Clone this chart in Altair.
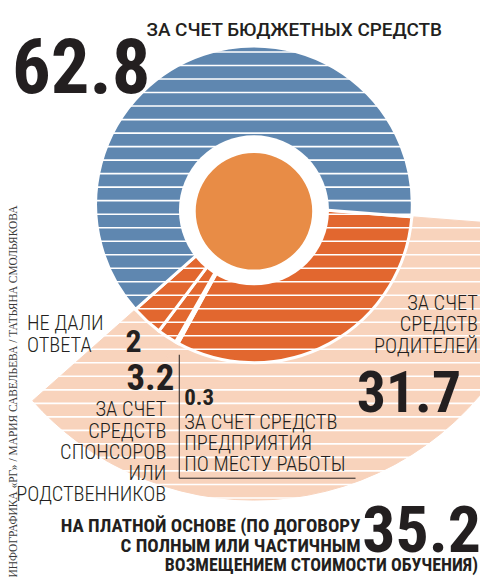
import math
import altair as alt
import pandas as pd

# ---- data ----
categories = [
    "За счет средств родителей",
    "За счет средств предприятия по месту работы",
    "Не дали ответа",
    "За счет средств спонсоров или родственников",
    "За счет бюджетных средств",
]
shares = [31.7, 0.3, 2.0, 3.2, 62.8]
paid = [31.7, 3.2, 0.3]          # "на платной основе" components

slice_colors = ["#E2672F", "#E2672F", "#E2672F", "#E2672F", "#5F87B0"]
peach = "#F8D3BC"
ink = "#231F20"

W, H = 474, 569
CX, CY = 247, 196          # pie centre (plot coords)
R_PIE = 159
R_PEACH = 297
START = math.radians(94.5)

def fmt(v):
    return f"{round(v, 1):g}"

df = pd.DataFrame({
    "category": categories,
    "share": shares,
    "ord": list(range(len(categories))),
})

theta_enc = alt.Theta("share:Q", stack=True,
                      scale=alt.Scale(range=[START, START + 2 * math.pi]))
order_enc = alt.Order("ord:Q")

# outer peach band (everything that is not budget-funded)
peach_layer = alt.Chart(df).mark_arc(radius=R_PEACH, stroke=peach, strokeWidth=1, clip=True).encode(
    theta=theta_enc,
    order=order_enc,
    x=alt.value(CX), y=alt.value(CY),
    color=alt.value(peach),
    opacity=alt.condition(alt.datum.category == categories[-1], alt.value(0), alt.value(1)),
)

pie_layer = alt.Chart(df).mark_arc(radius=R_PIE, stroke="white", strokeWidth=3).encode(
    theta=theta_enc,
    order=order_enc,
    x=alt.value(CX), y=alt.value(CY),
    color=alt.Color("category:N", scale=alt.Scale(domain=categories, range=slice_colors), legend=None),
)

# white horizontal hatching
stripes = pd.DataFrame({"k": list(range(34))})
stripe_layer = alt.Chart(stripes).mark_rule(color="white", strokeWidth=1.6).encode(
    y=alt.Y("k:Q", scale=alt.Scale(domain=[0, 1], range=[43, 43 + 13.57]), axis=None),
    x=alt.value(0), x2=alt.value(W),
)

one = pd.DataFrame({"a": [0]})
hole = alt.Chart(one).mark_circle(color="white", opacity=1, size=math.pi * 85 ** 2).encode(
    x=alt.value(CX), y=alt.value(CY + 6))
core = alt.Chart(one).mark_circle(color="#E88C46", opacity=1, size=math.pi * 66 ** 2).encode(
    x=alt.value(CX), y=alt.value(CY + 7))

leader_v = alt.Chart(one).mark_rule(color=ink, strokeWidth=1).encode(
    x=alt.value(172), y=alt.value(347), y2=alt.value(471))
leader_h = alt.Chart(one).mark_rule(color=ink, strokeWidth=1).encode(
    x=alt.value(172), x2=alt.value(349), y=alt.value(471))

COND = "'Roboto Condensed', 'Open Sans Condensed', 'DejaVu Sans Condensed', sans-serif"
LIGHT = "'Roboto Condensed', Roboto, sans-serif"
MED = "Roboto, 'Liberation Sans', sans-serif"

def label(text, x, y, size, font, weight="normal", align="left", line_height=None, **kw):
    props = dict(font=font, fontSize=size, fontWeight=weight, align=align,
                 baseline="alphabetic", color=ink, lineBreak="\n")
    if line_height:
        props["lineHeight"] = line_height
    props.update(kw)
    return alt.Chart(one).mark_text(**props).encode(
        x=alt.value(x), y=alt.value(y), text=alt.value(text))

texts = [
    label(fmt(shares[4]), 4, 84, 77, COND, "bold"),
    label(categories[4].upper(), 139, 27, 19, MED, 500),
    label("НЕ ДАЛИ\nОТВЕТА", 19, 322, 20.5, LIGHT, 300, line_height=22),
    label(fmt(shares[2]), 118, 344, 32, COND, "bold"),
    label(fmt(shares[3]), 119, 382, 37, COND, "bold"),
    label("ЗА СЧЕТ\nСРЕДСТВ\nСПОНСОРОВ\nИЛИ\nРОДСТВЕННИКОВ", 159, 409, 20.5, LIGHT, 300,
          align="right", line_height=21.25),
    label(fmt(shares[1]), 177, 397, 23, COND, "bold"),
    label("ЗА СЧЕТ СРЕДСТВ\nПРЕДПРИЯТИЯ\nПО МЕСТУ РАБОТЫ", 177, 422, 20.5, LIGHT, 300, line_height=21),
    label("ЗА СЧЕТ\nСРЕДСТВ\nРОДИТЕЛЕЙ", 472, 302, 20.5, LIGHT, 300, align="right", line_height=21.5),
    label(fmt(shares[0]), 455, 405, 58, COND, "bold", align="right"),
    label(fmt(sum(paid)), 475, 545, 66, COND, "bold", align="right"),
    label("НА ПЛАТНОЙ ОСНОВЕ (ПО ДОГОВОРУ\nС ПОЛНЫМ ИЛИ ЧАСТИЧНЫМ", 354, 525, 19, COND, "bold",
          align="right", line_height=20),
    label("ВОЗМЕЩЕНИЕМ СТОИМОСТИ ОБУЧЕНИЯ)", 472, 564, 18, COND, "bold", align="right"),
    alt.Chart(one).mark_text(font="'Liberation Serif', 'DejaVu Serif', serif", fontSize=11.5, angle=270,
                             align="center", baseline="middle", color="#3a3a3a").encode(
        x=alt.value(6), y=alt.value(384),
        text=alt.value("ИНФОГРАФИКА «РГ» / МАРИЯ САВЕЛЬЕВА / ТАТЬЯНА СМОЛЬЯКОВА")),
]

chart = alt.layer(
    peach_layer, pie_layer, stripe_layer, hole, core, leader_v, leader_h, *texts
).properties(
    width=W, height=H, padding=0,
    autosize=alt.AutoSizeParams(type="none"),
).configure_view(stroke=None)

chart.save("out.html", embed_options={"renderer": "svg", "actions": False})
